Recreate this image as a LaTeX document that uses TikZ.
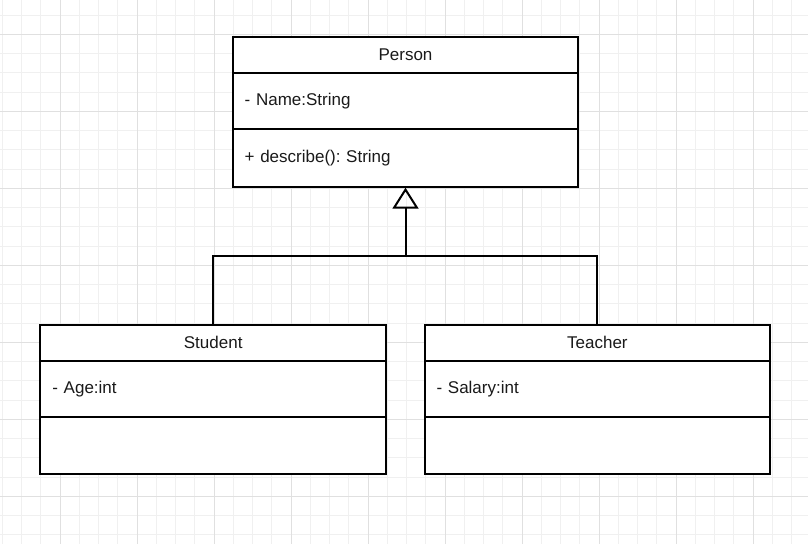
\documentclass[tikz,border=0pt]{standalone}
\usepackage{fontspec}
\setmainfont{Liberation Sans}
\usetikzlibrary{arrows.meta}
\frenchspacing
\definecolor{gridminor}{HTML}{F0F0F0}
\definecolor{gridmajor}{HTML}{E0E0E0}
\definecolor{txt}{HTML}{1A1A1A}
\tikzset{
  hdr/.style={draw=black, line width=2pt, fill=white, minimum width=345.6pt, text=txt,
    font=\fontsize{17}{20}\selectfont, inner sep=0pt},
  sect/.style={draw=black, line width=2pt, fill=white, minimum width=345.6pt, text=txt,
    font=\fontsize{17}{20}\selectfont, text width=321.6pt, inner xsep=12pt, inner ysep=0pt, align=left},
  conn/.style={draw=black, line width=2pt},
}
\begin{document}
\begin{tikzpicture}[x=1pt,y=-1pt]
\useasboundingbox (0,0) rectangle (808,544);
\fill[white] (0,0) rectangle (808,544);
% grid
\foreach \i in {-3,...,39} {
  \draw[gridminor, line width=1pt] ({60+19.25*\i},0) -- ({60+19.25*\i},544);
}
\foreach \i in {-1,...,27} {
  \draw[gridminor, line width=1pt] (0,{34.3+19.25*\i}) -- (808,{34.3+19.25*\i});
}
\foreach \i in {0,...,9} {
  \draw[gridmajor, line width=1pt] ({60+77*\i},0) -- ({60+77*\i},544);
}
\foreach \i in {0,...,6} {
  \draw[gridmajor, line width=1pt] (0,{34.3+77*\i}) -- (808,{34.3+77*\i});
}
% Person
\node[hdr, minimum height=35.4pt] (personH) at (405.5,55) {Person};
\node[sect, minimum height=56.6pt] (personA) at (405.5,101) {- Name:String};
\node[sect, minimum height=57.4pt] (personM) at (405.5,158) {+ describe(): String};
% Student
\node[hdr, minimum height=36pt] (studentH) at (213.2,342.7) {Student};
\node[sect, minimum height=56.6pt] (studentA) at (213.2,389) {- Age:int};
\node[sect, minimum height=56.7pt] (studentM) at (213.2,445.65) {};
% Teacher
\node[hdr, minimum height=36pt] (teacherH) at (597.4,342.7) {Teacher};
\node[sect, minimum height=56.6pt] (teacherA) at (597.4,389) {- Salary:int};
\node[sect, minimum height=56.7pt] (teacherM) at (597.4,445.65) {};
% connectors
\coordinate (j) at (405.5,256);
\draw[conn] (studentH.north) |- (j) -| (teacherH.north);
\draw[conn, -{Triangle[open, length=21pt, width=26pt, line width=2pt]}] (j) -- (personM.south);
\end{tikzpicture}
\end{document}
